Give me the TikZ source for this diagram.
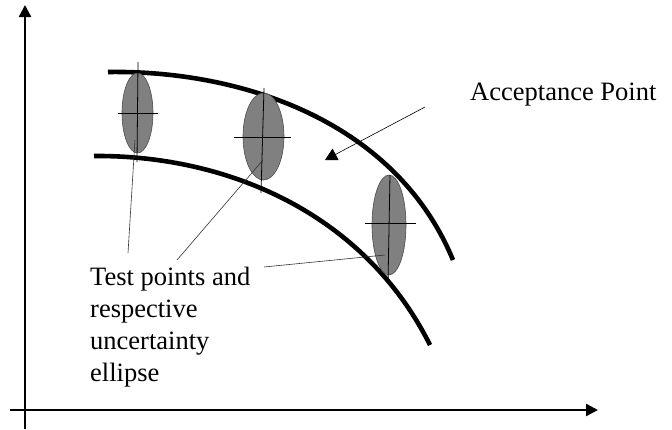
\documentclass[tikz,border=0pt]{standalone}
\usepackage{fontspec}
\setmainfont{Liberation Serif}
\usetikzlibrary{arrows.meta}

\begin{document}
\begin{tikzpicture}[x=1pt,y=-1pt]
\tikzset{
  axisline/.style={draw=black,line width=2.4pt,-{Triangle[length=12pt,width=12pt]}},
  boundcurve/.style={draw=black,line width=4.6pt,line cap=butt},
  testellipse/.style={fill=black!50,draw=black!70,line width=0.6pt},
  crossline/.style={draw=black,line width=0.8pt},
  leader/.style={draw=black!80,line width=0.6pt},
  pointer/.style={draw=black,line width=0.6pt,-{Triangle[length=12pt,width=13pt]}},
  label/.style={inner sep=0pt,font=\fontsize{26.5}{32}\selectfont}
}
\useasboundingbox (0,0) rectangle (672,429);
% axes
\coordinate (o_y) at (25,429);
\coordinate (top_y) at (25,5);
\coordinate (o_x) at (10,410);
\coordinate (end_x) at (598,410);
\draw[axisline] (o_y) -- (top_y);
\draw[axisline] (o_x) -- (end_x);
% acceptance band
\coordinate (up_s) at (108,72);
\coordinate (up_e) at (453,260);
\coordinate (lo_s) at (94,156);
\coordinate (lo_e) at (430,345);
\draw[boundcurve] (up_s) .. controls (240,70) and (395,120) .. (up_e);
\draw[boundcurve] (lo_s) .. controls (230,155) and (365,215) .. (lo_e);
% test points
\coordinate (e_a) at (137.5,113);
\coordinate (e_b) at (263.5,136.5);
\coordinate (e_c) at (389,225);
\draw[testellipse] (e_a) ellipse [x radius=15.5pt,y radius=40pt];
\draw[testellipse] (e_b) ellipse [x radius=20.5pt,y radius=43.5pt];
\draw[testellipse] (e_c) ellipse [x radius=17pt,y radius=50pt];
\draw[crossline] (138,62) -- (137,162);
\draw[crossline] (118,113) -- (158,113);
\draw[crossline] (264,88) -- (261,193);
\draw[crossline] (234,137) -- (291,137);
\draw[crossline] (390,175) -- (388,283);
\draw[crossline] (365,223) -- (416,223);
% labels
\node[label,anchor=north west,align=left] (n_test) at (90,267) {Test points and\\respective\\uncertainty\\ellipse};
\node[label,anchor=base west] (n_acc) at (470,100) {Acceptance Point};
% leaders
\coordinate (t_a) at (128,253);
\coordinate (t_b) at (177,260);
\coordinate (t_c) at (264,267);
\coordinate (p_a) at (135,140);
\coordinate (p_b) at (263,160);
\coordinate (p_c) at (385,255);
\draw[leader] (t_a) -- (p_a);
\draw[leader] (t_b) -- (p_b);
\draw[leader] (t_c) -- (p_c);
\coordinate (acc_from) at (425,107);
\coordinate (acc_pt) at (325,160);
\draw[pointer] (acc_from) -- (acc_pt);
\end{tikzpicture}
\end{document}
